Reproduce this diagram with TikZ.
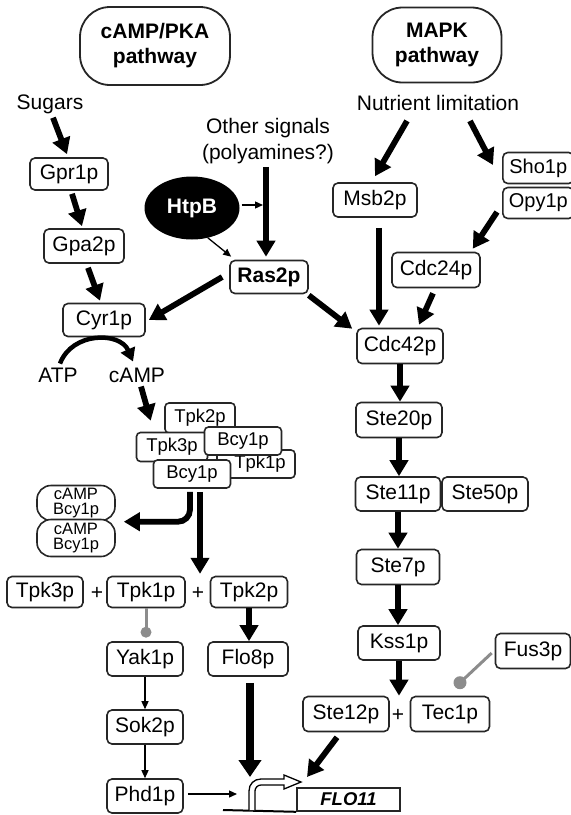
\documentclass[tikz,border=0pt]{standalone}
\usepackage{fontspec}
\setmainfont{Liberation Sans}
\usetikzlibrary{arrows.meta,shapes.geometric,calc}
\newcommand\myN{\fontsize{21}{24}\selectfont}
\newcommand\myS{\fontsize{18.5}{20}\selectfont}
\newcommand\myT{\fontsize{16.5}{15.5}\selectfont}
\newcommand\myB{\fontsize{21}{25}\selectfont\bfseries}
\begin{document}
\begin{tikzpicture}[x=1pt,y=-1pt,
 box/.style={draw=black!85, line width=1.6pt, rounded corners=5pt, fill=white, inner sep=0pt, minimum height=34pt, font=\myN},
 cbox/.style={box, font=\myS, minimum height=28pt, rounded corners=4pt},
 pillbox/.style={box, font=\myT, align=center, minimum width=78pt, rounded corners=14pt},
 headbox/.style={draw=black!85, line width=1.8pt, rounded corners=30pt, fill=white, inner sep=0pt, font=\myB, align=center},
 lbl/.style={inner sep=0pt, font=\myN},
 thk/.style={line width=5.8pt, -{Triangle[length=16pt,width=18pt]}},
 thn/.style={line width=1.3pt, -{Triangle[length=8pt,width=7pt]}},
 inh/.style={draw=black!45, line width=3pt},
 dot/.style={circle, fill=black!45, inner sep=0pt, minimum size=#1},
]
\useasboundingbox (0,0) rectangle (571,815);
\clip (0,0) rectangle (571,815);

% headers
\node[headbox, minimum width=150pt, minimum height=78pt] (camppka) at (155,46) {cAMP/PKA\\pathway};
\node[headbox, minimum width=129pt, minimum height=75pt] (mapk) at (437,45) {MAPK\\pathway};

% cAMP side
\node[lbl] (sugars) at (50,104) {Sugars};
\node[box, minimum width=78pt, minimum height=32pt] (gpr1p) at (69,174) {Gpr1p};
\node[box, minimum width=80pt] (gpa2p) at (84,246) {Gpa2p};
\node[box, minimum width=82pt, minimum height=33pt] (cyr1p) at (104,320) {Cyr1p};
\node[lbl] (atp) at (58,375) {ATP};
\node[lbl] (camp) at (137,375) {cAMP};
\node[lbl, align=center] (other) at (268,141) {Other signals\\[2pt](polyamines?)};
\node[ellipse, fill=black, minimum width=95pt, minimum height=63pt, inner sep=0pt, text=white, font=\myB] (htpb) at (192,208) {HtpB};
\node[box, minimum width=78pt, minimum height=33pt, font=\myB] (ras2p) at (269,277) {Ras2p};

% PKA complex
\node[cbox, minimum width=78pt] (tpk1c) at (256,464) {\hspace*{8pt}Tpk1p};
\node[cbox, minimum width=70pt, minimum height=30pt] (tpk2c) at (200,418) {Tpk2p};
\node[cbox, minimum width=71pt, minimum height=29pt] (tpk3c) at (172,447) {Tpk3p};
\node[cbox, minimum width=77pt] (bcyu) at (243,441) {Bcy1p};
\node[cbox, minimum width=77pt] (bcyl) at (192,474) {Bcy1p};

\node[pillbox, minimum height=35pt] (pillu) at (76,503) {cAMP\\Bcy1p};
\node[pillbox, minimum height=37pt] (pilll) at (76,538) {cAMP\\Bcy1p};

% Tpk row
\node[box, minimum width=76pt, minimum height=31pt] (tpk3r) at (45,592) {Tpk3p};
\node[lbl] (plusa) at (97,593) {+};
\node[box, minimum width=78pt, minimum height=31pt] (tpk1r) at (146,592) {Tpk1p};
\node[lbl] (plusb) at (198,593) {+};
\node[box, minimum width=77pt, minimum height=31pt] (tpk2r) at (249,592) {Tpk2p};

\node[box, minimum width=76pt] (yak1p) at (145,659) {Yak1p};
\node[box, minimum width=80pt] (flo8p) at (248,659) {Flo8p};
\node[box, minimum width=76pt] (sok2p) at (145,727) {Sok2p};
\node[box, minimum width=76pt] (phd1p) at (145,796) {Phd1p};

% MAPK side
\node[lbl] (nutrient) at (438,103) {Nutrient limitation};
\node[box, minimum width=84pt] (msb2p) at (375,200) {Msb2p};
\node[box, minimum width=71pt, minimum height=31pt, anchor=west, font=\fontsize{20}{22}\selectfont] (sho1p) at (502,168) {Sho1p};
\node[box, minimum width=71pt, minimum height=31pt, anchor=west, font=\fontsize{20}{22}\selectfont] (opy1p) at (502,203) {Opy1p};
\node[box, minimum width=88pt, minimum height=35pt] (cdc24p) at (436,270) {Cdc24p};
\node[box, minimum width=86pt, minimum height=35pt] (cdc42p) at (400,346) {Cdc42p};
\node[box, minimum width=86pt, minimum height=35pt] (ste20p) at (399,420) {Ste20p};
\node[box, minimum width=85pt] (ste11p) at (398,494) {Ste11p};
\node[box, minimum width=86pt] (ste50p) at (485,494) {Ste50p};
\node[box, minimum width=83pt, minimum height=35pt] (ste7p) at (398,567) {Ste7p};
\node[box, minimum width=82pt] (kss1p) at (399,643) {Kss1p};
\node[box, minimum width=75pt, minimum height=35pt] (fus3p) at (533,651) {Fus3p};
\node[box, minimum width=86pt, minimum height=35pt] (ste12p) at (346,714) {Ste12p};
\node[lbl] (plusc) at (398,715) {+};
\node[box, minimum width=79pt, minimum height=35pt] (tec1p) at (450,714) {Tec1p};

% FLO11 gene
\node[draw=black!85, line width=1.6pt, fill=white, minimum width=103pt, minimum height=23pt, inner sep=0pt, font=\fontsize{18.5}{20}\selectfont\bfseries\itshape] (flo11) at (348.5,799.5) {FLO11};
\coordinate (promtop) at (252,779);
\coordinate (promtip) at (301,782);
\coordinate (basestart) at (223,810);
\draw[line width=2pt] (basestart) -- (flo11.south west);
\draw[line width=1.3pt, fill=white] (249,810) -- (249,791) .. controls (249,784) and (254,779) .. (261,779) -- (284,779) -- (284,775) -- (promtip) -- (284,789) -- (284,785) -- (261,785) .. controls (257.5,785) and (255,788) .. (255,791) -- (255,810);

% connectors cAMP side
\draw[thk] ($(sugars.south)+(3,4)$) -- ($(gpr1p.north)+(-2,-3)$);
\draw[thk] ($(gpr1p.south)+(3,3)$) -- ($(gpa2p.north)+(-2,-2)$);
\draw[thk] ($(gpa2p.south)+(4,4)$) -- ($(cyr1p.north)+(-4,-2)$);
\draw[thk] ($(ras2p.west)+(-7,0)$) -- ($(cyr1p.east)+(3,0)$);
\draw[thk] ($(other.south)+(-2,3)$) -- ($(ras2p.north)+(-3,-3)$);
\draw[thn] ($(htpb.east)+(2,-3)$) -- ($(htpb.east -| ras2p.north)+(-6,-3)$);
\draw[thn] (htpb.-62) -- ($(ras2p.north west)+(2,-3)$);
\draw[line width=4.5pt, -{Triangle[length=13pt,width=15pt]}] ($(atp.north)+(2,-4)$) .. controls ($(atp.north)+(14,-36)$) and ($(camp.north)+(-17,-36)$) .. ($(camp.north)+(-4,-6)$);
\draw[thk] ($(camp.south)+(4,4)$) -- ($(tpk3c.north west)+(15,-11)$);
\draw[thk, rounded corners=12pt] ($(bcyl.south)+(-2,3)$) |- ($(pilll.north east)+(8,3)$);
\draw[thk] ($(bcyl.south)+(8,3)$) -- ($(bcyl.south)+(8,85)$);
\draw[inh] (tpk1r.south) -- ($(yak1p.north)+(1,-9)$) node[dot=11pt] (dota) {};
\draw[thk] (tpk2r.south) -- (tpk2r.south |- flo8p.north);
\draw[thn] (yak1p.south) -- (sok2p.north);
\draw[thn] (sok2p.south) -- (phd1p.north);
\draw[thn] ($(phd1p.east)+(4,-2)$) -- ($(phd1p.east -| promtop)+(-15,-2)$);
\draw[line width=8pt, -{Triangle[length=17pt,width=22pt]}] ($(flo8p.south)+(2,6)$) -- ($(promtop)+(-2,-2)$);

% connectors MAPK side
\draw[thk] ($(nutrient.south)+(-31,10)$) -- ($(msb2p.north)+(0,-6)$);
\draw[thk] ($(nutrient.south)+(32,10)$) -- ($(sho1p.west)+(-9,-3)$);
\draw[thk] ($(opy1p.west)+(-5,9)$) -- ($(cdc24p.north east)+(-8,-3)$);
\draw[thk] ($(cdc24p.south)+(-3,5)$) -- ($(cdc42p.north)+(19,-3)$);
\draw[thk] ($(msb2p.south)+(4,10)$) -- ($(cdc42p.north)+(-21,-2)$);
\draw[thk] ($(ras2p.south east)+(0,1)$) -- ($(cdc42p.north west)+(-4,1)$);
\draw[thk] (cdc42p.south) -- (cdc42p.south |- ste20p.north);
\draw[thk] (ste20p.south) -- (ste20p.south |- ste11p.north);
\draw[thk] (ste11p.south) -- (ste11p.south |- ste7p.north);
\draw[thk] (ste7p.south) -- (ste7p.south |- kss1p.north);
\draw[thk] (kss1p.south) -- (kss1p.south |- ste12p.north);
\draw[inh] ($(fus3p.west)+(-3,2)$) -- ($(tec1p.north)+(10,-13)$) node[dot=13pt] (dotb) {};
\draw[thk] ($(ste12p.south)+(-9,5)$) -- ($(promtip)+(6,-5)$);
\end{tikzpicture}
\end{document}
